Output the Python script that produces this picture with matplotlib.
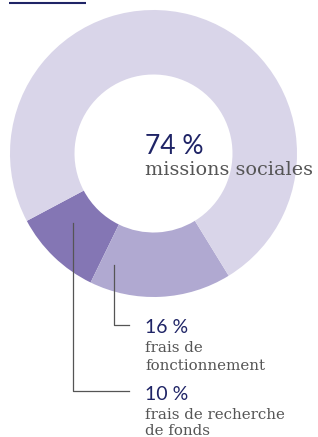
#Donut chart of how the budget is spent (missions / fonctionnement / recherche de fonds)

import matplotlib
matplotlib.use('Agg')
from matplotlib import pyplot as plt


#Shares, in percent, in the order the wedges are drawn
labels = [['frais de recherche', 'de fonds'], ['frais de', 'fonctionnement'], ['missions sociales']]
values = [10, 16, 74]
value_text = ['10 %', '16 %', '74 %']
colors = ['#8476b4', '#b0a9d1', '#d9d5e9']


#Figure is sized in pixels, so work in pixel coordinates with y going down
W, H = 318, 437
fig = plt.figure(figsize=(W/100, H/100), dpi=100)
ax = fig.add_axes([0, 0, 1, 1])

cx, cy, r_out, r_in = 153.5, 153.5, 143.5, 79

#y is inverted, so draw clockwise in data space to get counterclockwise on screen
ax.pie(values, colors=colors, center=(cx, cy), radius=r_out, startangle=-208,
       counterclock=False, wedgeprops=dict(width=r_out - r_in, linewidth=0))

ax.set_xlim(0, W)
ax.set_ylim(H, 0)
ax.set_aspect('equal')
ax.axis('off')

navy = '#1f2466'
grey = '#555555'
num_font = 'Lato'
txt_font = 'DejaVu Serif'


def label_block(x, y_num, y_lines, num, lines, num_size, txt_size):
    #Percentage on top, then each text line on its own baseline
    ax.text(x, y_num, num, color=navy, fontsize=num_size, family=num_font, va='baseline')
    for yy, line in zip(y_lines, lines):
        ax.text(x, yy, line, color=grey, fontsize=txt_size, family=txt_font, va='baseline')


#Underline left over from a heading cut off at the top
ax.plot([9, 86], [2.5, 2.5], color=navy, lw=1.5, solid_capstyle='butt')

#Centre label
label_block(145, 154, [175], value_text[2], labels[2], 19, 13.8)

#Leader line and label for fonctionnement
ax.plot([114, 114, 129], [265, 325, 325], color=grey, lw=0.9)
label_block(145, 333, [352, 370], value_text[1], labels[1], 14, 10.8)

#Leader line and label for recherche de fonds
ax.plot([73, 73, 129], [223, 391, 391], color=grey, lw=0.9)
label_block(145, 400, [419, 435], value_text[0], labels[0], 14, 10.8)

fig.savefig('out.png', dpi=100)
